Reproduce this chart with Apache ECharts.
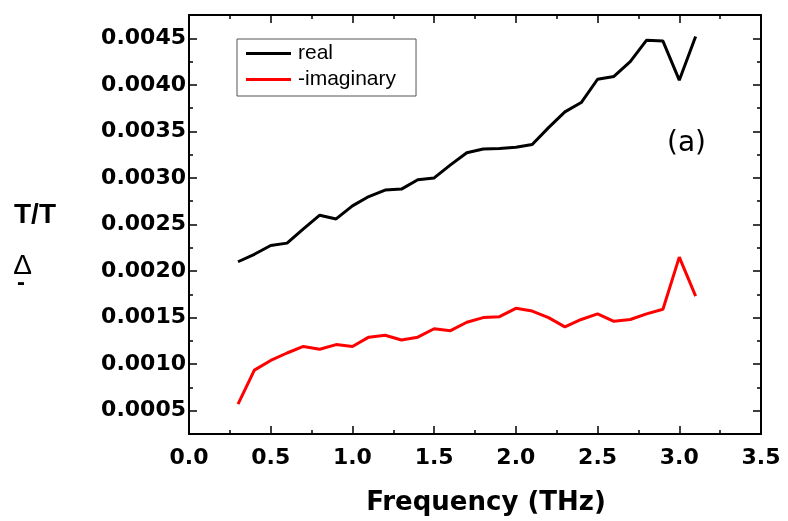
<!DOCTYPE html>
<html>
<head>
<meta charset="utf-8">
<script src="https://cdn.jsdelivr.net/npm/echarts@6/dist/echarts.min.js"></script>
<style>html,body{margin:0;padding:0;background:#fff;}#c{width:788px;height:521px;}</style>
</head>
<body>
<div id="c"></div>
<script>
const freq = [0.3,0.4,0.5,0.6,0.7,0.8,0.9,1.0,1.1,1.2,1.3,1.4,1.5,1.6,1.7,1.8,1.9,2.0,2.1,2.2,2.3,2.4,2.5,2.6,2.7,2.8,2.9,3.0,3.1];
const realVals = [0.00210,0.00218,0.002275,0.00230,0.002454,0.00260,0.00256,0.00270,0.00280,0.00287,0.00288,0.00298,0.00300,0.00314,0.00327,0.00331,0.003315,0.00333,0.00336,0.00354,0.00371,0.00381,0.00406,0.00409,0.00425,0.00448,0.00447,0.00405,0.00452];
const imagVals = [0.00057,0.000936,0.00104,0.00112,0.00119,0.00116,0.00121,0.00119,0.00129,0.00131,0.00126,0.00129,0.00138,0.00136,0.00145,0.00150,0.00151,0.00160,0.00157,0.00150,0.00140,0.00148,0.00154,0.00146,0.00148,0.00154,0.00159,0.00215,0.00173];
const yMajorTicks = [0.0005,0.0010,0.0015,0.0020,0.0025,0.0030,0.0035,0.0040,0.0045];
const yMinorTicks = [0.00025,0.00075,0.00125,0.00175,0.00225,0.00275,0.00325,0.00375,0.00425,0.00475];
const xTickLabels = [0,0.5,1.0,1.5,2.0,2.5,3.0,3.5];
const seriesNames = ['real','-imaginary'];

const Y_MIN = 0.00025, Y_MAX = 0.00475;
const axisLineStyle = {color:'#000', width:2};

function yAx(pos, ticks, len, labels){
  return {
    type:'value', position:pos, min:Y_MIN, max:Y_MAX, interval:0.00025,
    axisLine:{show:true, onZero:false, lineStyle:axisLineStyle},
    axisTick:{show:true, inside:true, length:len, customValues:ticks, lineStyle:{color:'#000', width:1.5}},
    axisLabel: labels ? {show:true, customValues:yMajorTicks, margin:3,
      fontFamily:'DejaVu Sans', fontWeight:'bold', fontSize:22, color:'#000',
      formatter:function(v){return v.toFixed(4);} } : {show:false},
    splitLine:{show:false}
  };
}
function xAx(pos, labels){
  return {
    type:'value', position:pos, min:0, max:3.5, interval:0.5,
    axisLine:{show:true, onZero:false, lineStyle:axisLineStyle},
    axisTick:{show:true, inside:true, length:8, lineStyle:{color:'#000', width:1.5}},
    minorTick:{show:true, splitNumber:2, length:4, lineStyle:{color:'#000', width:1.5}},
    axisLabel: labels ? {show:true, margin:13, fontFamily:'DejaVu Sans', fontWeight:'bold', fontSize:22, color:'#000',
      customValues:xTickLabels, formatter:function(v){return v.toFixed(1);} } : {show:false},
    splitLine:{show:false}
  };
}

const chart = echarts.init(document.getElementById('c'), null, {renderer:'canvas'});
chart.setOption({
  animation:false,
  backgroundColor:'#fff',
  grid:{left:189, top:15, right:27, bottom:87, containLabel:false},
  xAxis:[xAx('bottom', true), xAx('top', false)],
  yAxis:[yAx('left', yMajorTicks, 8, true), yAx('left', yMinorTicks, 4, false),
         yAx('right', yMajorTicks, 8, false), yAx('right', yMinorTicks, 4, false)],
  legend:{
    data:seriesNames.map(function(n){return {name:n, icon:'rect'};}),
    orient:'vertical', left:237, top:39, itemWidth:45, itemHeight:3, itemGap:5,
    padding:[4, 20, 6, 9], borderColor:'#555', borderWidth:1, backgroundColor:'#fff',
    textStyle:{fontFamily:'Liberation Sans', fontSize:21, color:'#000', padding:[0,0,0,2]}
  },
  graphic:[
    {type:'text', x:667, y:144, style:{text:'(a)', fontFamily:'DejaVu Sans', fontSize:28, fill:'#000', verticalAlign:'middle'}},
    {type:'text', x:14, y:215, style:{text:'T/T', fontFamily:'Liberation Sans', fontWeight:'bold', fontSize:28, fill:'#000', verticalAlign:'middle'}},
    {type:'text', x:22.5, y:266, style:{text:'Δ', fontFamily:'Liberation Sans', fontSize:28, fill:'#000', align:'center', verticalAlign:'middle'}},
    {type:'text', x:21, y:283, style:{text:'-', fontFamily:'Liberation Sans', fontWeight:'bold', fontSize:24, fill:'#000', align:'center', verticalAlign:'middle'}},
    {type:'text', x:486, y:503, style:{text:'Frequency (THz)', fontFamily:'DejaVu Sans', fontWeight:'bold', fontSize:26, fill:'#000', align:'center', verticalAlign:'middle'}}
  ],
  series:[
    {name:seriesNames[0], type:'line', xAxisIndex:0, yAxisIndex:0, showSymbol:false, symbol:'none',
     lineStyle:{color:'#000', width:3}, itemStyle:{color:'#000'},
     data:freq.map(function(f,i){return [f, realVals[i]];})},
    {name:seriesNames[1], type:'line', xAxisIndex:0, yAxisIndex:0, showSymbol:false, symbol:'none',
     lineStyle:{color:'#ff0000', width:3}, itemStyle:{color:'#ff0000'},
     data:freq.map(function(f,i){return [f, imagVals[i]];})}
  ]
});
</script>
</body>
</html>
